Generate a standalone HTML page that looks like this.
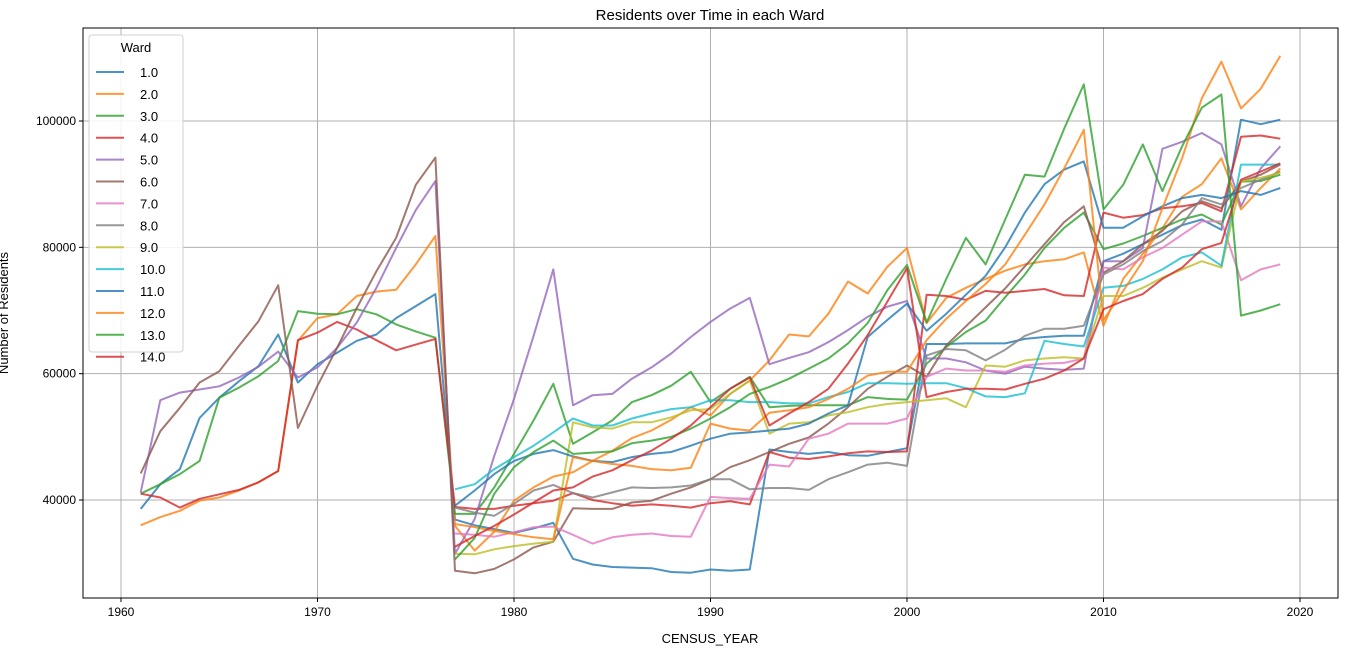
<!DOCTYPE html>
<html><head><meta charset="utf-8"><style>
html,body{margin:0;padding:0;background:#fff;}
svg{display:block;font-family:"Liberation Sans","DejaVu Sans",sans-serif;}
</style></head><body>
<svg id="chart" width="1358" height="658" xmlns="http://www.w3.org/2000/svg">
<text x="710" y="20" text-anchor="middle" font-size="15" fill="#000">Residents over Time in each Ward</text>
<text x="710" y="643" text-anchor="middle" font-size="13" fill="#000">CENSUS_YEAR</text>
<text transform="translate(8,313) rotate(-90)" text-anchor="middle" font-size="13" fill="#000">Number of Residents</text>
<g id="grid"></g><g id="series"></g><g id="axes"></g><g id="legend"></g>
</svg>
<script>
const years = [];
for (let y = 1961; y <= 2019; y++) years.push(y);
const xTicks = [1960, 1970, 1980, 1990, 2000, 2010, 2020];
const yTicks = [40000, 60000, 80000, 100000];
const wardLabels = ["1.0","2.0","3.0","4.0","5.0","6.0","7.0","8.0","9.0","10.0","11.0","12.0","13.0","14.0"];
const N16 = [null,null,null,null,null,null,null,null,null,null,null,null,null,null,null,null];
// values in thousands of residents, 1961..2019
const ward1 = [38.6,42.5,44.9,53,56.2,58.8,61.2,66.2,58.6,61.5,63.3,65.2,66.2,68.8,70.7,72.6,
 36.9,36,35.4,34.8,35.5,36.4,30.7,29.8,29.4,29.3,29.2,28.6,28.5,29,28.8,29,48,47.6,47.3,47.6,47.1,47,47.6,48.2,
 64.7,64.7,64.8,64.8,64.8,65.5,65.8,66,66,77.8,79,80.5,82,83.5,84.4,82.8,100.2,99.5,100.2];
const ward2 = [36,37.3,38.3,39.9,40.4,41.5,42.8,44.6,65.2,68.8,69.4,72.3,73,73.3,77.3,81.8,
 35.9,32,35,39.9,42,43.7,44.4,46.2,47.8,49.8,51,52.7,54.7,53.4,56.8,58.9,62.1,66.2,65.9,69.5,74.6,72.7,76.9,79.9,
 68,72,73.6,75,76.3,77.3,77.8,78.1,79.2,67.6,75,79,83,88,90,94.1,86,89.4,92.5];
const ward3 = [41,42.5,44.1,46.2,56.2,57.8,59.6,62,69.9,69.5,69.4,70.2,69.4,67.8,66.7,65.7,
 37.8,37.8,42,47.3,52.6,58.4,48.9,50.7,52.6,55.5,56.6,58.1,60.3,55.5,57.6,59.5,54.7,54.9,55,55,55,56.3,56,55.9,
 61.6,64.2,66.6,68.4,72.1,75.7,79.9,83.1,85.5,79.7,80.6,81.8,83.1,84.4,85.2,83.6,90.4,90.5,91.5];
const ward4 = [41,40.4,38.8,40.2,40.9,41.6,42.8,44.6,65.3,66.5,68.2,67,65.3,63.7,64.6,65.5,
 38.9,38.6,38.6,39.1,39.5,39.9,41.1,40,39.5,39.1,39.3,39.1,38.8,39.5,39.8,39.3,47.6,46.7,46.5,46.9,47.4,47.7,47.6,47.7,
 72.5,72.3,71.7,73.1,72.8,73.1,73.4,72.4,72.3,85.5,84.7,85.1,86.2,86.5,87,85.7,97.5,97.7,97.2];
const ward5 = [41.2,55.8,57,57.5,58,59.4,61.1,63.5,59.4,61,64.1,68.1,73.6,79.9,85.9,90.5,
 31.5,37,47,56,66,76.5,55,56.6,56.8,59.2,61,63.2,65.8,68.2,70.3,72,61.5,62.5,63.4,65,66.9,69,70.6,71.5,
 62.4,62.4,61.8,60.5,60,61.1,60.8,60.6,60.8,77.8,77.8,79.9,95.6,96.7,98.1,96.3,86.5,92.5,96];
const ward6 = [44.2,50.9,54.6,58.6,60.4,64.4,68.3,74,51.4,58.1,64.1,70.4,76.2,81.5,89.9,94.2,
 28.8,28.4,29.1,30.6,32.5,33.4,38.7,38.6,38.6,39.6,39.9,41,42,43.3,45.2,46.3,47.6,48.9,49.9,52.1,54.7,57.6,59.5,61.3,
 59.5,64.5,67.5,70.5,73.5,77,80.5,84,86.5,76,77.8,80.5,82.6,85.7,87.3,86.2,90.4,91.5,93.1];
const ward7 = N16.concat([34.7,34.5,34.2,34.9,35.7,35.8,34.5,33.1,34.1,34.5,34.7,34.3,34.2,40.5,40.3,40.2,45.6,45.3,49.7,50.5,52.1,52.1,52.1,52.9,
 59.5,60.8,60.5,60.5,60.3,61.3,61.6,61.7,62.4,76.8,76.5,78.4,79.9,82,84.1,84.1,74.8,76.5,77.3]);
const ward8 = N16.concat([38.8,38,37.5,39.4,41.5,42.4,41.1,40.4,41.2,42,41.9,42,42.3,43.3,43.3,41.7,41.9,41.9,41.6,43.3,44.4,45.6,45.9,45.4,
 62.9,63.9,63.7,62.1,63.8,66,67.1,67.1,67.6,75.7,77.3,79.4,81,83.6,87.8,86.8,89.4,90.7,92]);
const ward9 = N16.concat([31.5,31.4,32.2,32.7,33.1,33.4,52.3,51.5,51.3,52.3,52.3,53.1,54.2,54.4,56.8,58.9,50.5,52.1,52.3,53.4,53.9,54.7,55.2,55.5,
 55.8,56.1,54.7,61.3,61.1,62.1,62.4,62.6,62.4,72.3,72.3,73.6,75.2,76.5,77.8,76.8,90.4,91,91.8]);
const ward10 = N16.concat([41.7,42.5,44.9,46.8,48.6,50.7,52.9,51.8,51.8,52.9,53.7,54.4,54.7,55.8,55.8,55.5,55.5,55.3,55.3,56.3,57.1,58.5,58.5,58.4,
 58.5,58.5,57.7,56.4,56.3,56.9,65.2,64.7,64.3,73.6,73.9,75,76.5,78.4,79.2,77.1,93.1,93.1,93.1]);
const ward11 = N16.concat([39.1,41.5,44.1,46.2,47.3,47.9,46.9,46.2,46,46.8,47.3,47.6,48.6,49.7,50.5,50.7,51,51.3,52.1,53.7,55,65.8,68.5,71.1,
 66.8,69.5,72.5,75.5,80,85.5,90,92.3,93.6,83.1,83.1,84.9,86.5,87.8,88.3,87.8,88.9,88.3,89.4]);
const ward12 = N16.concat([36.2,35.7,35.1,34.6,34.1,33.8,46.8,46.2,45.7,45.4,44.9,44.7,45.1,52.1,51.3,51,53.8,54.2,54.7,56,57.6,59.7,60.3,60.3,
 65.3,68.7,71.5,74.2,77.3,82,86.8,92.5,98.6,68.5,73.1,77.8,86.2,94.1,103.6,109.4,102,105.1,110.3]);
const ward13 = N16.concat([30.6,34,41,45.2,47.6,49.4,47.3,47.5,47.7,49,49.4,50,51.3,52.9,54.7,56.8,57.9,59.2,60.8,62.4,64.8,68,73.2,77.2,
 68.1,75,81.5,77.3,84.4,91.5,91.2,98.8,105.8,86,89.9,96.3,88.9,96,102.1,104.2,69.2,70,71]);
const ward14 = N16.concat([32.6,34.3,35.9,37.7,39.6,41.5,42,43.7,44.7,46.3,47.8,49.7,51.8,54.7,57.6,59.4,51.8,53.7,55.5,57.6,61.6,66.1,71.4,76.7,
 56.3,57.1,57.6,57.6,57.5,58.4,59.2,60.5,62.4,70.2,71.5,72.6,75,76.8,79.7,80.7,90.7,92,93.3]);
const allWards = [ward1,ward2,ward3,ward4,ward5,ward6,ward7,ward8,ward9,ward10,ward11,ward12,ward13,ward14];

const colors = ["#1f77b4","#ff7f0e","#2ca02c","#d62728","#9467bd","#8c564b","#e377c2","#7f7f7f","#bcbd22","#17becf","#1f77b4","#ff7f0e","#2ca02c","#d62728"];
const L=83,R=1338,T=28,B=598;
const xs = yr => 121 + (yr - 1960) * 19.65;
const ys = v => 121 + (100000 - v) / 1000 * 6.317;
const NS="http://www.w3.org/2000/svg";
function mk(tag, attrs, parent){const e=document.createElementNS(NS,tag);for(const k in attrs)e.setAttribute(k,attrs[k]);parent.appendChild(e);return e;}
const grid=document.getElementById('grid'), ser=document.getElementById('series'), axes=document.getElementById('axes'), leg=document.getElementById('legend');
xTicks.forEach(t=>{
  const x=xs(t);
  const g=mk('line',{x1:x,x2:x,y1:T,y2:B,stroke:'#b0b0b0','stroke-width':1},grid);
  
  
  mk('line',{x1:x,x2:x,y1:B,y2:B+4,stroke:'#000'},axes);
  const tx=mk('text',{x:x,y:B+18,'text-anchor':'middle','font-size':12,fill:'#000'},axes);
  tx.textContent=t;
  
  
});
yTicks.forEach(t=>{
  const y=ys(t);
  const g=mk('line',{x1:L,x2:R,y1:y,y2:y,stroke:'#b0b0b0','stroke-width':1},grid);
  
  
  mk('line',{x1:L-4,x2:L,y1:y,y2:y,stroke:'#000'},axes);
  const tx=mk('text',{x:L-7,y:y+4,'text-anchor':'end','font-size':12,fill:'#000'},axes);
  tx.textContent=t;
  
  
});
const frame=mk('rect',{x:L,y:T,width:R-L,height:B-T,fill:'none',stroke:'#000','stroke-width':1},axes);


allWards.forEach((arr,i)=>{
  let d='',pen=false;
  arr.forEach((v,j)=>{
    if(v===null){pen=false;return;}
    d+=(pen?'L':'M')+xs(years[j]).toFixed(1)+','+ys(v*1000).toFixed(1);
    pen=true;
  });
  const p=mk('path',{d:d,fill:'none',stroke:colors[i],'stroke-width':2,'stroke-opacity':0.8,'stroke-linejoin':'round'},ser);
  
  
});
const box=mk('rect',{x:89,y:35,width:94,height:317,rx:3,fill:'#fff','fill-opacity':0.85,stroke:'#d0d0d0'},leg);


const lt=mk('text',{x:136,y:52,'text-anchor':'middle','font-size':13,fill:'#000'},leg);
lt.textContent='Ward';


wardLabels.forEach((lab,i)=>{
  const y=72+i*21.9;
  const ln=mk('line',{x1:96,x2:124,y1:y,y2:y,stroke:colors[i],'stroke-width':2,'stroke-opacity':0.8},leg);
  
  
  const t=mk('text',{x:140,y:y+5,'font-size':13,fill:'#000'},leg);
  t.textContent=lab;
  
  
});
</script>
</body></html>
